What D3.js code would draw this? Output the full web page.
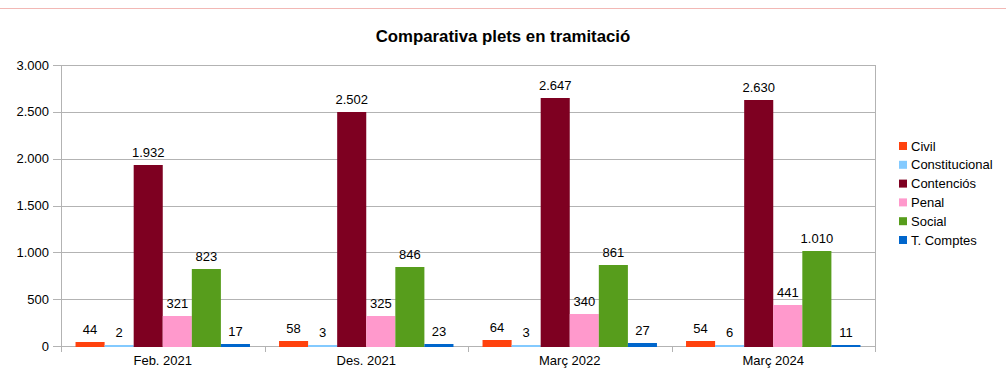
<!DOCTYPE html>
<html>
<head>
<meta charset="utf-8">
<title>Comparativa plets en tramitació</title>
<style>
  body { margin: 0; background: #fff; font-family: 'Liberation Sans', Arial, sans-serif; }
  text { fill: #000; }
</style>
<script src="https://d3js.org/d3.v7.min.js"></script>
</head>
<body>
<div id="chart"></div>
<script>
// ******* Data *******
const periods = ["Feb. 2021", "Des. 2021", "Març 2022", "Març 2024"];
const series = ["Civil", "Constitucional", "Contenciós", "Penal", "Social", "T. Comptes"];
const civil          = [44, 58, 64, 54];
const constitucional = [2, 3, 3, 6];
const contencios     = [1932, 2502, 2647, 2630];
const penal          = [321, 325, 340, 441];
const social         = [823, 846, 861, 1010];
const tcomptes       = [17, 23, 27, 11];
const yTicks = [0, 500, 1000, 1500, 2000, 2500, 3000];
const colors = ["#ff420e", "#83caff", "#7e0021", "#ff99cc", "#579d1c", "#0066cc"];

const values = [civil, constitucional, contencios, penal, social, tcomptes];

const width = 1006, height = 370;
const margin = {left: 61, right: 131, top: 65, bottom: 24};
const fmt = n => d3.format(",")(n).replace(/,/g, ".");

const svg = d3.select("#chart").append("svg")
    .attr("width", width)
    .attr("height", height);

// thin pink rule at the top of the page
svg.append("line")
    .attr("x1", 0).attr("x2", width)
    .attr("y1", 8.5).attr("y2", 8.5)
    .attr("stroke", "#f2b8b5")
    .attr("stroke-width", 1);

// ******* Scales *******
const x0 = d3.scaleBand()
    .domain(periods)
    .range([margin.left, width - margin.right])
    .paddingInner(0)
    .paddingOuter(0);

const x1 = d3.scaleBand()
    .domain(series)
    .range([0, x0.bandwidth()])
    .paddingInner(0)
    .paddingOuter(0.5);

const y = d3.scaleLinear()
    .domain([0, 3000])
    .range([height - margin.bottom, margin.top]);

// ******* Grid *******
svg.append("g")
    .selectAll("line")
    .data(yTicks)
    .join("line")
    .attr("x1", margin.left - 8)
    .attr("x2", width - margin.right)
    .attr("y1", d => Math.round(y(d)) + 0.5)
    .attr("y2", d => Math.round(y(d)) + 0.5)
    .attr("stroke", "#b3b3b3");

svg.append("g")
    .selectAll("text")
    .data(yTicks)
    .join("text")
    .attr("x", margin.left - 12)
    .attr("y", d => y(d))
    .attr("dy", "0.35em")
    .attr("text-anchor", "end")
    .attr("font-size", 13)
    .text(fmt);

// vertical lines: left axis, right border
[margin.left, width - margin.right].forEach(xx => {
  svg.append("line")
      .attr("x1", xx + 0.5).attr("x2", xx + 0.5)
      .attr("y1", margin.top).attr("y2", height - margin.bottom + 6)
      .attr("stroke", "#b3b3b3");
});

// category ticks
svg.append("g")
    .selectAll("line")
    .data(periods.slice(1))
    .join("line")
    .attr("x1", d => Math.round(x0(d)) + 0.5)
    .attr("x2", d => Math.round(x0(d)) + 0.5)
    .attr("y1", y(0))
    .attr("y2", y(0) + 6)
    .attr("stroke", "#b3b3b3");

svg.append("g")
    .selectAll("text")
    .data(periods)
    .join("text")
    .attr("x", d => x0(d) + x0.bandwidth() / 2)
    .attr("y", height - margin.bottom + 19)
    .attr("text-anchor", "middle")
    .attr("font-size", 13)
    .text(d => d);

// ******* Bars *******
const groups = svg.append("g")
    .selectAll("g")
    .data(periods)
    .join("g")
    .attr("transform", d => `translate(${x0(d)},0)`);

const cells = groups.selectAll("g")
    .data((p, i) => series.map((s, j) => ({s, j, v: values[j][i]})))
    .join("g");

const base = Math.round(y(0)) + 1;   // bars cover the axis line
cells.append("rect")
    .attr("x", d => x1(d.s))
    .attr("width", x1.bandwidth())
    .attr("y", d => Math.min(Math.round(y(d.v)), base - 2))
    .attr("height", d => base - Math.min(Math.round(y(d.v)), base - 2))
    .attr("fill", d => colors[d.j]);

cells.append("text")
    .attr("x", d => x1(d.s) + x1.bandwidth() / 2)
    .attr("y", d => Math.min(y(d.v), y(0) - 1) - 8)
    .attr("text-anchor", "middle")
    .attr("font-size", 13)
    .text(d => fmt(d.v));

// ******* Title *******
svg.append("text")
    .attr("x", 503)
    .attr("y", 42)
    .attr("text-anchor", "middle")
    .attr("font-size", 16.8)
    .attr("font-weight", "bold")
    .text("Comparativa plets en tramitació");

// ******* Legend *******
const legend = svg.append("g")
    .selectAll("g")
    .data(series)
    .join("g")
    .attr("transform", (d, i) => `translate(899,${146 + i * 18.8})`);

legend.append("rect")
    .attr("x", 0).attr("y", -4)
    .attr("width", 8).attr("height", 8)
    .attr("fill", (d, i) => colors[i]);

legend.append("text")
    .attr("x", 12)
    .attr("dy", "0.35em")
    .attr("font-size", 13)
    .text(d => d);
</script>
</body>
</html>
